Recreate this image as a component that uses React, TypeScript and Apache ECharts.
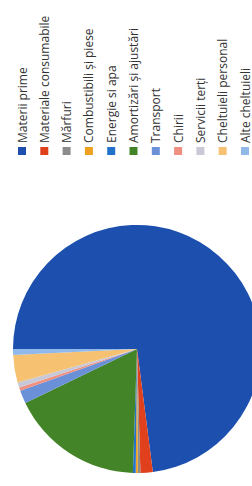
import React, { useEffect, useRef } from "react";
import * as echarts from "echarts";

const categories = [
  "Materii prime",
  "Materiale consumabile",
  "Mărfuri",
  "Combustibili și piese",
  "Energie si apa",
  "Amortizări și ajustări",
  "Transport",
  "Chirii",
  "Servicii terți",
  "Cheltuieli personal",
  "Alte cheltuieli",
];
const values = [72.9, 1.6, 0.33, 0.28, 0.36, 17.3, 1.7, 0.42, 0.69, 3.56, 0.78];
const colors = [
  "#1c4fae",
  "#e0401c",
  "#8c8c8c",
  "#f0a020",
  "#2272cc",
  "#438428",
  "#6a90d8",
  "#f09080",
  "#c8c8d6",
  "#f6c272",
  "#90b8e8",
];

export default function App() {
  const ref = useRef<HTMLDivElement>(null);
  useEffect(() => {
    if (!ref.current) return;
    const chart = echarts.init(ref.current, null, { renderer: "svg" });
    chart.setOption({
      animation: false,
      backgroundColor: "#ffffff",
      color: colors,
      legend: {
        orient: "vertical",
        left: 331,
        top: 15,
        height: 300,
        padding: 0,
        itemWidth: 8,
        itemHeight: 8,
        itemGap: 8.3,
        icon: "rect",
        selectedMode: false,
        data: categories,
        textStyle: {
          fontFamily: "Open Sans",
          fontSize: 12,
          lineHeight: 14,
          color: "#333333",
          padding: [0, 0, 0, -1],
        },
      },
      series: [
        {
          type: "pie",
          center: [137, 137],
          radius: [0, 124],
          startAngle: 90,
          clockwise: true,
          silent: true,
          label: { show: false },
          labelLine: { show: false },
          data: categories.map((name, i) => ({ name, value: values[i] })),
        },
      ],
    });
    return () => chart.dispose();
  }, []);
  return (
    <div
      style={{
        position: "fixed",
        left: 0,
        top: 0,
        width: 252,
        height: 486,
        overflow: "hidden",
        background: "#fff",
      }}
    >
      <div
        ref={ref}
        style={{
          position: "absolute",
          left: 0,
          top: 486,
          width: 486,
          height: 252,
          transformOrigin: "0 0",
          transform: "rotate(-90deg)",
        }}
      />
    </div>
  );
}
